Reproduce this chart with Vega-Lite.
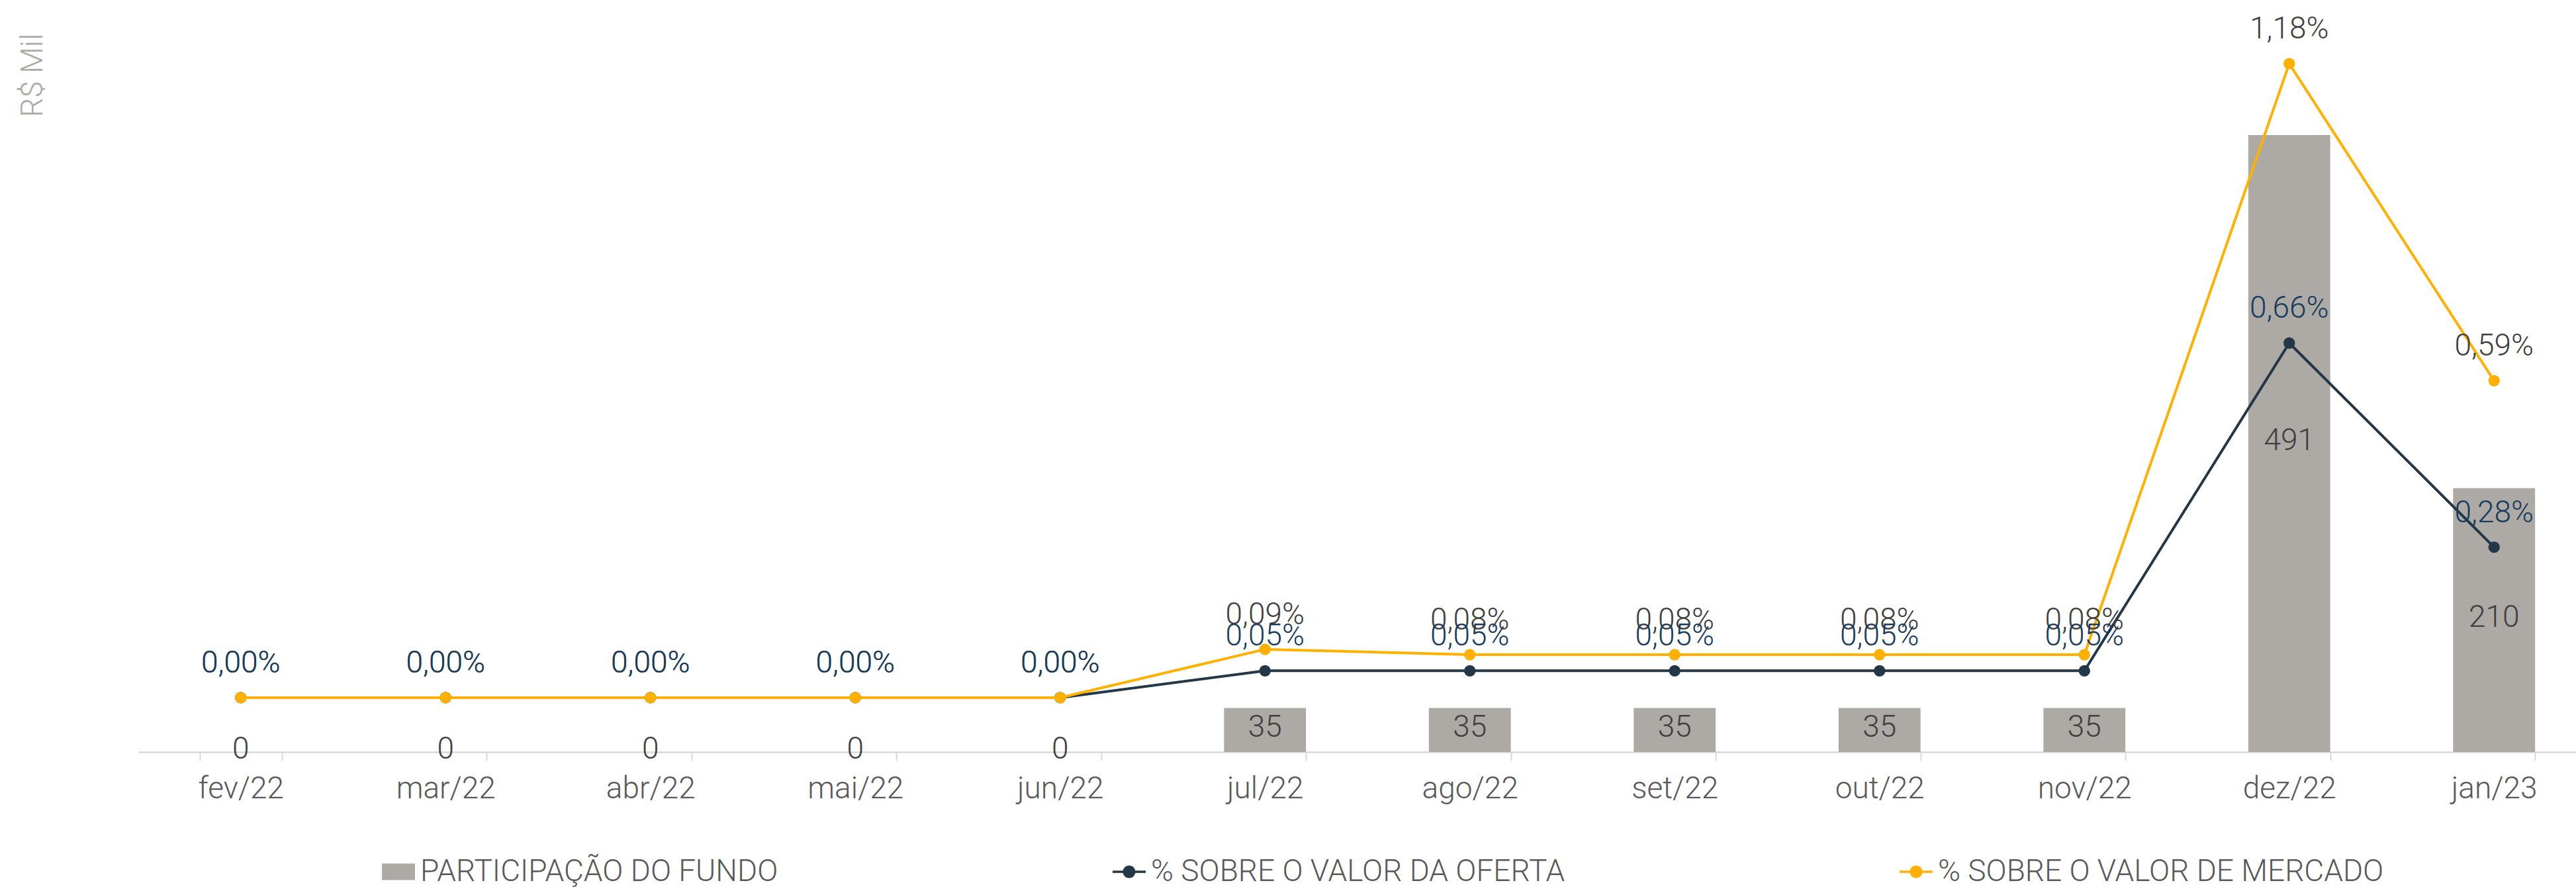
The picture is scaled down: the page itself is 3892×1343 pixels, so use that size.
{
  "$schema": "https://vega.github.io/schema/vega-lite/v6.json",
  "width": 3683,
  "height": 1086,
  "autosize": {"type": "none"},
  "padding": {"left": 209, "top": 50, "right": 0, "bottom": 207},
  "background": "white",
  "config": {
    "view": {"stroke": null},
    "font": "Roboto"
  },
  "data": {
    "values": [
      {"mes": "fev/22", "part": 0, "oferta": 0, "mercado": 0, "lblO": "0,00%", "lblM": "0,00%"},
      {"mes": "mar/22", "part": 0, "oferta": 0, "mercado": 0, "lblO": "0,00%", "lblM": "0,00%"},
      {"mes": "abr/22", "part": 0, "oferta": 0, "mercado": 0, "lblO": "0,00%", "lblM": "0,00%"},
      {"mes": "mai/22", "part": 0, "oferta": 0, "mercado": 0, "lblO": "0,00%", "lblM": "0,00%"},
      {"mes": "jun/22", "part": 0, "oferta": 0, "mercado": 0, "lblO": "0,00%", "lblM": "0,00%"},
      {"mes": "jul/22", "part": 35, "oferta": 0.05, "mercado": 0.09, "lblO": "0,05%", "lblM": "0,09%"},
      {"mes": "ago/22", "part": 35, "oferta": 0.05, "mercado": 0.08, "lblO": "0,05%", "lblM": "0,08%"},
      {"mes": "set/22", "part": 35, "oferta": 0.05, "mercado": 0.08, "lblO": "0,05%", "lblM": "0,08%"},
      {"mes": "out/22", "part": 35, "oferta": 0.05, "mercado": 0.08, "lblO": "0,05%", "lblM": "0,08%"},
      {"mes": "nov/22", "part": 35, "oferta": 0.05, "mercado": 0.08, "lblO": "0,05%", "lblM": "0,08%"},
      {"mes": "dez/22", "part": 491, "oferta": 0.66, "mercado": 1.18, "lblO": "0,66%", "lblM": "1,18%"},
      {"mes": "jan/23", "part": 210, "oferta": 0.28, "mercado": 0.59, "lblO": "0,28%", "lblM": "0,59%"}
    ]
  },
  "encoding": {
    "x": {
      "field": "mes",
      "type": "ordinal",
      "sort": null,
      "scale": {"type": "band", "paddingInner": 0.6, "paddingOuter": 0.3, "range": [0, 3714]},
      "axis": {
        "title": null,
        "labelAngle": 0,
        "labelFont": "Roboto",
        "labelFontWeight": 300,
        "labelFontSize": 46,
        "labelColor": "#595959",
        "labelBaseline": "alphabetic",
        "labelPadding": 56,
        "tickSize": 13,
        "tickWidth": 2,
        "tickColor": "#d9d9d9",
        "tickBand": "extent",
        "domainColor": "#d9d9d9",
        "domainWidth": 2.5,
        "grid": false
      }
    }
  },
  "layer": [
    {
      "mark": {"type": "bar"},
      "encoding": {
        "y": {
          "field": "part",
          "type": "quantitative",
          "scale": {"domain": [0, 572.2], "nice": false},
          "axis": {
            "title": "R$ Mil",
            "labels": false,
            "ticks": false,
            "domain": false,
            "grid": false,
            "titleX": -146,
            "titleY": 0,
            "titleAngle": -90,
            "titleAlign": "right",
            "titleBaseline": "alphabetic",
            "titleFont": "Roboto",
            "titleFontSize": 46,
            "titleFontWeight": 300,
            "titleColor": "#aeaaa6"
          }
        },
        "color": {
          "datum": "PARTICIPAÇÃO DO FUNDO",
          "type": "nominal",
          "scale": {
            "domain": ["PARTICIPAÇÃO DO FUNDO", "% SOBRE O VALOR DA OFERTA", "% SOBRE O VALOR DE MERCADO"],
            "range": ["#ada9a5", "#243746", "#ffb000"]
          },
          "legend": {
            "orient": "none",
            "legendX": 368,
            "legendY": 1242,
            "direction": "horizontal",
            "title": null,
            "padding": 0,
            "symbolSize": 2500,
            "labelFont": "Roboto",
            "labelFontSize": 46,
            "labelFontWeight": 300,
            "labelColor": "#595959",
            "labelOffset": 8,
            "labelLimit": 2000,
            "columnPadding": 505,
            "encode": {
              "symbols": {
                "update": {
                  "shape": {"signal": "datum.value === 'PARTICIPAÇÃO DO FUNDO' ? 'M-1,-0.5H1V0.5H-1Z' : 'M-1,-0.07H1V0.07H-1Z M0.38,0A0.38,0.38 0 1 1 -0.38,0A0.38,0.38 0 1 1 0.38,0Z'"},
                  "fill": {"scale": "color", "field": "value"},
                  "stroke": {"value": "transparent"},
                  "strokeWidth": {"value": 0},
                  "opacity": {"value": 1},
                  "fillOpacity": {"value": 1},
                  "size": {"value": 2500}
                }
              }
            }
          }
        }
      }
    },
    {
      "transform": [{"calculate": "datum.part / 2", "as": "mid"}],
      "mark": {"type": "text", "baseline": "middle", "dy": -4, "fontSize": 46, "fontWeight": 300, "color": "#404040"},
      "encoding": {
        "y": {"field": "mid", "type": "quantitative", "scale": {"domain": [0, 572.2], "nice": false}, "axis": null},
        "text": {"field": "part", "type": "quantitative"}
      }
    },
    {
      "mark": {"type": "line", "strokeWidth": 4, "point": {"filled": true, "size": 300, "opacity": 1}},
      "encoding": {
        "y": {"field": "oferta", "type": "quantitative", "scale": {"domain": [-0.1011, 1.2369], "nice": false, "zero": false}, "axis": null},
        "color": {"datum": "% SOBRE O VALOR DA OFERTA", "type": "nominal"}
      }
    },
    {
      "mark": {"type": "line", "strokeWidth": 4, "point": {"filled": true, "size": 300, "opacity": 1}},
      "encoding": {
        "y": {"field": "mercado", "type": "quantitative", "scale": {"domain": [-0.1011, 1.2369], "nice": false, "zero": false}, "axis": null},
        "color": {"datum": "% SOBRE O VALOR DE MERCADO", "type": "nominal"}
      }
    },
    {
      "mark": {"type": "text", "baseline": "alphabetic", "dy": -38, "fontSize": 46, "fontWeight": 300, "color": "#404040"},
      "encoding": {
        "y": {"field": "mercado", "type": "quantitative", "scale": {"domain": [-0.1011, 1.2369], "nice": false, "zero": false}, "axis": null},
        "text": {"field": "lblM"}
      }
    },
    {
      "mark": {"type": "text", "baseline": "alphabetic", "dy": -38, "fontSize": 46, "fontWeight": 300, "color": "#173c5e"},
      "encoding": {
        "y": {"field": "oferta", "type": "quantitative", "scale": {"domain": [-0.1011, 1.2369], "nice": false, "zero": false}, "axis": null},
        "text": {"field": "lblO"}
      }
    }
  ],
  "resolve": {"scale": {"y": "independent"}}
}
